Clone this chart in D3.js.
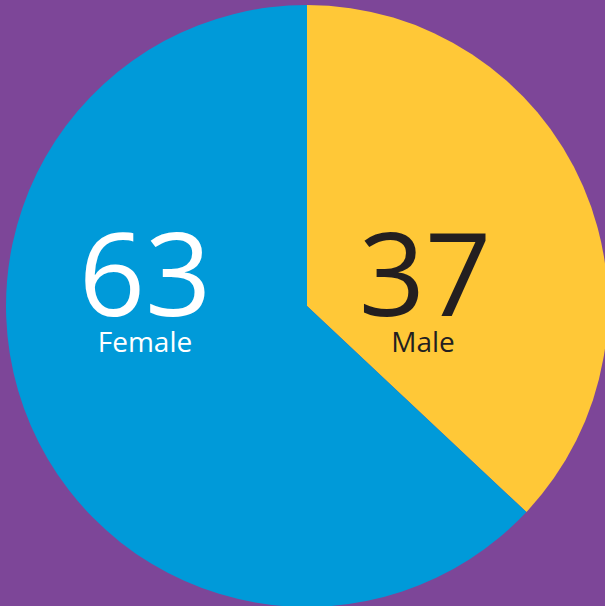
<!DOCTYPE html>
<html><head><meta charset="utf-8">
<script src="https://cdn.jsdelivr.net/npm/d3@7"></script>
<style>html,body{margin:0;padding:0;background:#7d4698;}svg{display:block;}</style>
</head><body>
<script>
const categories = ["Male", "Female"];
const values = [37, 63];
const colors = ["#ffc837", "#009ad9"];
const textColors = ["#231f20", "#ffffff"];

const W = 605, H = 606, cx = 307, cy = 306, r = 301;
const svg = d3.select("body").append("svg").attr("width", W).attr("height", H);
svg.append("rect").attr("width", W).attr("height", H).attr("fill", "#7d4698");

const pie = d3.pie().sort(null).value(d => d)(values);
const arc = d3.arc().innerRadius(0).outerRadius(r);
const g = svg.append("g").attr("transform", `translate(${cx},${cy})`);
g.selectAll("path").data(pie).join("path").attr("d", arc).attr("fill", (d, i) => colors[i]);

const labelX = [425, 145];
const font = "'Open Sans', 'Noto Sans', sans-serif";
pie.forEach((d, i) => {
  svg.append("text").attr("x", labelX[i]).attr("y", 316).attr("text-anchor", "middle")
    .attr("font-family", font).attr("font-size", 116).attr("fill", textColors[i])
    .text(values[i]);
  svg.append("text").attr("x", labelX[i] - (i === 0 ? 2 : 0)).attr("y", 352).attr("text-anchor", "middle")
    .attr("font-family", font).attr("font-size", 28).attr("fill", textColors[i])
    .text(categories[i]);
});
</script>
</body></html>
